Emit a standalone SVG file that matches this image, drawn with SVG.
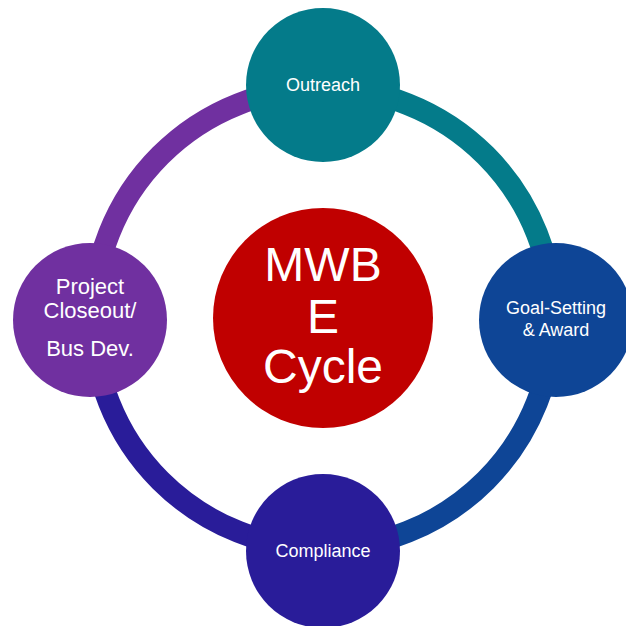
<svg xmlns="http://www.w3.org/2000/svg" width="626" height="626" viewBox="0 0 626 626">
<style>
.arc{fill:none;stroke-width:22}
.lbl{font-family:"Liberation Sans",Arial,sans-serif;fill:#ffffff;text-anchor:middle}
.s18{font-size:18px}
.s22{font-size:22px}
.s48{font-size:48px}
</style>
<rect width="626" height="626" fill="#ffffff"/>
<g id="connectors">
<path class="arc" stroke="#047B8A" d="M323 88 A230 230 0 0 1 553 318"/>
<path class="arc" stroke="#0E4596" d="M553 318 A230 230 0 0 1 323 548"/>
<path class="arc" stroke="#291C99" d="M323 548 A230 230 0 0 1 93 318"/>
<path class="arc" stroke="#7030A0" d="M93 318 A230 230 0 0 1 323 88"/>
</g>
<g id="outreach">
<circle cx="323" cy="85" r="77" fill="#047B8A"/>
<text class="lbl s18" x="323" y="91">Outreach</text>
</g>
<g id="goal-setting">
<circle cx="556" cy="320" r="77" fill="#0E4596"/>
<text class="lbl s18" x="556" y="314">Goal-Setting</text>
<text class="lbl s18" x="556" y="336">&amp; Award</text>
</g>
<g id="compliance">
<circle cx="323" cy="551" r="77" fill="#291C99"/>
<text class="lbl s18" x="323" y="557">Compliance</text>
</g>
<g id="closeout">
<circle cx="90" cy="320" r="77" fill="#7030A0"/>
<text class="lbl s22" x="90" y="294">Project</text>
<text class="lbl s22" x="90" y="318">Closeout/</text>
<text class="lbl s22" x="90" y="356">Bus Dev.</text>
</g>
<g id="center">
<circle cx="323" cy="318" r="110" fill="#C00000"/>
<text class="lbl s48" x="323" y="281">MWB</text>
<text class="lbl s48" x="323" y="333">E</text>
<text class="lbl s48" x="323" y="383">Cycle</text>
</g>
</svg>
